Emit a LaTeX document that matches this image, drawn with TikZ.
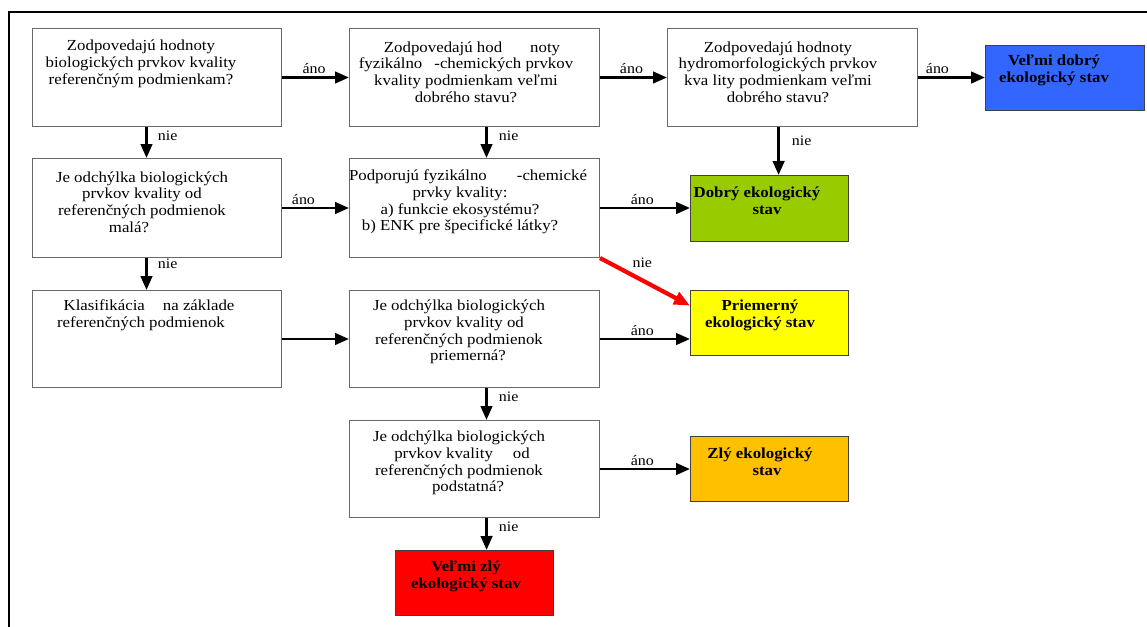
\documentclass[tikz,border=0pt]{standalone}
\usepackage{fontspec}
\setmainfont{Liberation Serif}[FakeStretch=1.1]
\usetikzlibrary{arrows.meta}
\definecolor{vblue}{RGB}{51,102,255}
\definecolor{vgreen}{RGB}{153,204,0}
\definecolor{vyellow}{RGB}{255,255,0}
\definecolor{vorange}{RGB}{255,192,0}
\definecolor{vred}{RGB}{255,0,0}
\definecolor{qline}{RGB}{105,105,105}
\begin{document}
\begin{tikzpicture}[x=1pt,y=-1pt,
  qbox/.style={draw=qline, line width=1pt, inner sep=0pt, anchor=north west, minimum height=98pt},
  rbox/.style={draw=black!75, line width=1.2pt, inner sep=0pt, anchor=north west, minimum width=158pt, minimum height=65pt},
  qtext/.style={inner sep=0pt, align=center, font=\fontsize{15.3}{16.7}\selectfont},
  rtext/.style={inner sep=0pt, align=center, font=\fontsize{15.3}{16.7}\selectfont\bfseries},
  lbl/.style={inner sep=0pt, font=\fontsize{14.5}{16}\selectfont},
  conn/.style={line width=2.8pt, -{Triangle[length=14pt,width=11.5pt]}},
  redconn/.style={draw=vred, line width=4.2pt, -{Triangle[length=16pt,width=13pt]}}
]
\useasboundingbox (0,0) rectangle (1147,626);
% frame
\draw[line width=2pt] (9,627) -- (9,12) -- (1148,12);

% question boxes
\node[qbox, minimum width=249pt] (A) at (32,28) {};
\node[qbox, minimum width=250pt] (B) at (349,28) {};
\node[qbox, minimum width=250pt] (C) at (667,28) {};
\node[qbox, minimum width=249pt, minimum height=99pt] (D) at (32,158) {};
\node[qbox, minimum width=250pt, minimum height=99pt] (E) at (349,158) {};
\node[qbox, minimum width=249pt, minimum height=97pt] (F) at (32,290) {};
\node[qbox, minimum width=250pt, minimum height=97pt] (G) at (349,290) {};
\node[qbox, minimum width=250pt, minimum height=97pt] (H) at (349,420) {};

% result boxes
\node[rbox, fill=vblue, minimum width=159pt] (blue) at (985,45) {};
\node[rbox, fill=vgreen, minimum height=66pt] (green) at (690,175) {};
\node[rbox, fill=vyellow] (yellow) at (690,290) {};
\node[rbox, fill=vorange] (orange) at (690,436) {};
\node[rbox, fill=vred] (red) at (395,550) {};

% texts
\node[qtext] (At) at (141,64) {Zodpovedajú hodnoty\\biologických prvkov kvality\\referenčným podmienkam?};
\node[qtext] (Bt) at (466,72) {\hspace*{12pt}Zodpovedajú hod\hspace{28pt}noty\\fyzikálno\hspace{12pt}-chemických prvkov\\kvality podmienkam veľmi\hspace*{16pt}\\dobrého stavu?};
\node[qtext] (Ct) at (778,72) {Zodpovedajú hodnoty\\hydromorfologických prvkov\\kva lity podmienkam veľmi\\dobrého stavu?};
\node[rtext] (bluet) at (1054,70.5) {Veľmi dobrý\\ekologický stav};
\node[qtext] (Dt) at (142,202) {Je odchýlka biologických\\prvkov kvality od\\referenčných podmienok\\malá?\hspace*{26pt}};
\node[qtext] (Et) at (460,202) {\hspace*{16pt}Podporujú fyzikálno\hspace{30pt}-chemické\\prvky kvality:\\a) funkcie ekosystému?\\b) ENK pre špecifické látky?};
\node[rtext] (greent) at (762,201) {Dobrý ekologický\hspace*{10pt}\\\hspace*{10pt}stav};
\node[qtext] (Ft) at (145,315) {\hspace*{8pt}Klasifikácia\hspace{18pt}na základe\\referenčných podmienok\hspace*{8pt}};
\node[qtext] (Gt) at (459,332) {Je odchýlka biologických\\\hspace*{10pt}prvkov kvality od\\referenčných podmienok\\\hspace*{18pt}priemerná?};
\node[rtext] (yellowt) at (760,315.5) {Priemerný\\ekologický stav};
\node[qtext] (Ht) at (459,463) {Je odchýlka biologických\\\hspace*{6pt}prvkov kvality\hspace{20pt}od\\referenčných podmienok\\\hspace*{18pt}podstatná?};
\node[rtext] (oranget) at (763,462) {Zlý ekologický\hspace*{6pt}\\\hspace*{8pt}stav};
\node[rtext] (redt) at (466,576.5) {Veľmi zlý\\ekologický stav};

% connectors
\draw[conn] (A.east) -- node[lbl, above=2pt, pos=0.48] {áno} (B.west);
\draw[conn] (B.east) -- node[lbl, above=2pt, pos=0.47] {áno} (C.west);
\draw[conn] (C.east) -- node[lbl, above=2pt, pos=0.29] {áno} (C.east -| blue.west);
\draw[conn] ([xshift=-10.5pt]A.south) -- node[lbl, right=10pt, pos=0.28] {nie} ([xshift=-10.5pt]D.north);
\draw[conn] ([xshift=12pt]B.south) -- node[lbl, right=11pt, pos=0.28] {nie} ([xshift=12pt]E.north);
\draw[conn] ([xshift=-14pt]C.south) -- node[lbl, right=12pt, pos=0.28] {nie} ([xshift=9pt]green.north);
\draw[conn] (D.east) -- node[lbl, above=2pt, pos=0.32] {áno} (E.west);
\draw[conn] (E.east) -- node[lbl, above=2pt, pos=0.47] {áno} (E.east -| green.west);
\draw[conn] ([xshift=-10.5pt]D.south) -- node[lbl, right=10pt, pos=0.18] {nie} ([xshift=-10.5pt]F.north);
\draw[redconn] (E.south east) -- node[lbl, text=black, above=11pt, pos=0.47] {nie} ([yshift=17.5pt]yellow.west);
\draw[conn] (F.east) -- (G.west);
\draw[conn] (G.east) -- node[lbl, above=2pt, pos=0.47] {áno} (G.east -| yellow.west);
\draw[conn] ([xshift=12pt]G.south) -- node[lbl, right=11pt, pos=0.26] {nie} ([xshift=12pt]H.north);
\draw[conn] (H.east) -- node[lbl, above=2pt, pos=0.47] {áno} (H.east -| orange.west);
\draw[conn] ([xshift=12pt]H.south) -- node[lbl, right=11pt, pos=0.26] {nie} ([xshift=12pt]red.north);
\end{tikzpicture}
\end{document}
